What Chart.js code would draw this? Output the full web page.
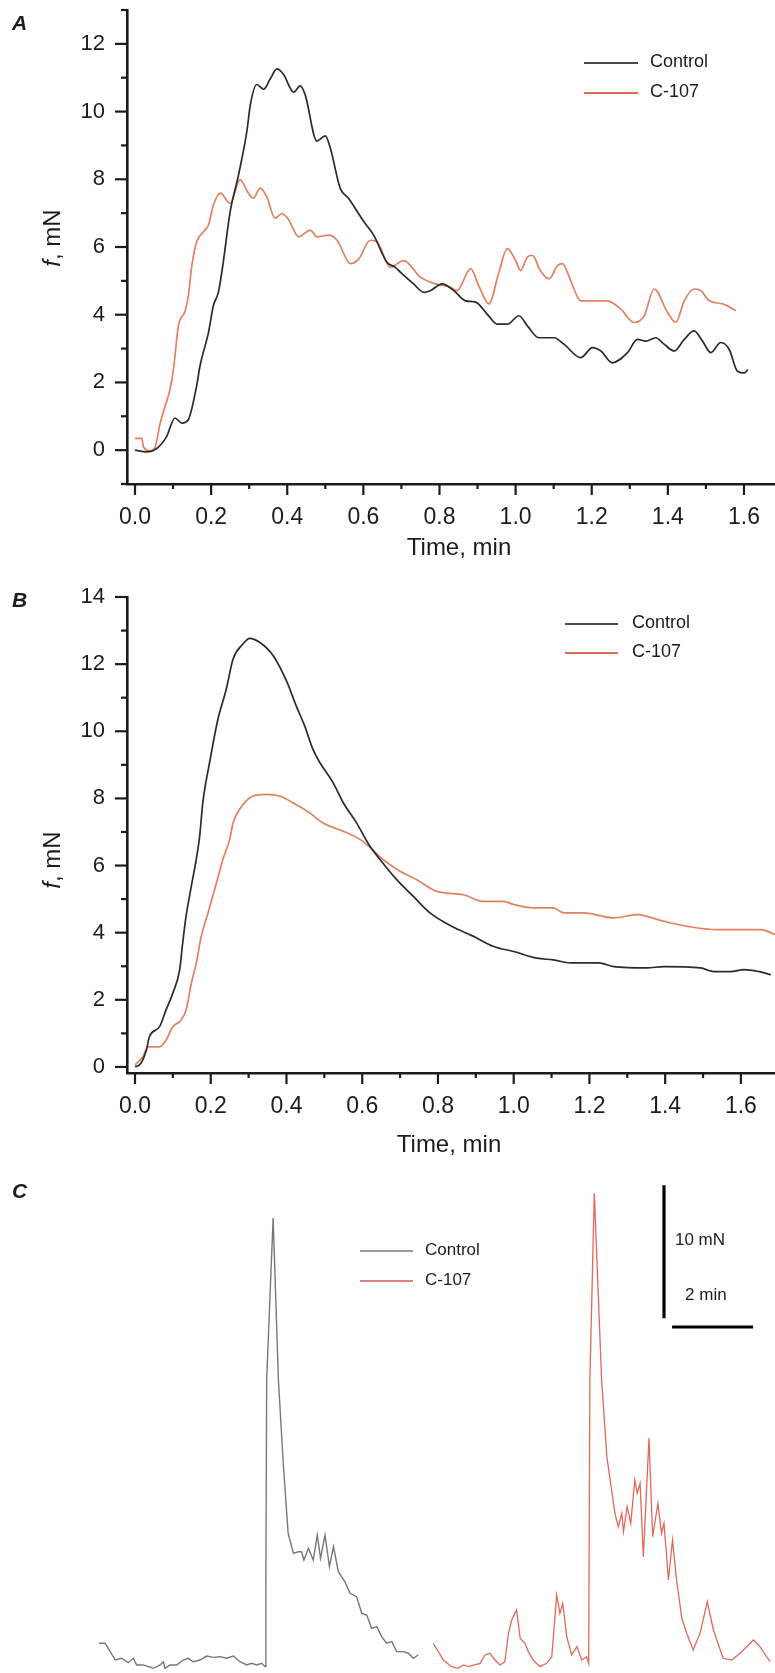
<!DOCTYPE html>
<html>
<head>
<meta charset="utf-8">
<script src="https://cdn.jsdelivr.net/npm/chart.js@4.4.0/dist/chart.umd.min.js"></script>
<style>
  body { margin: 0; background: #fff; }
  .panel { position: absolute; left: 0; width: 775px; }
  #wrapA { top: 0; height: 570px; }
  #wrapB { top: 570px; height: 590px; }
  #wrapC { top: 1160px; height: 513px; }
</style>
</head>
<body>
<div class="panel" id="wrapA"><canvas id="chartA" width="775" height="570"></canvas></div>
<div class="panel" id="wrapB"><canvas id="chartB" width="775" height="590"></canvas></div>
<div class="panel" id="wrapC"><canvas id="chartC" width="775" height="513"></canvas></div>
<script>
// ---- panel A: averaged force traces (min, mN)
const ctrlA_t = [0.000,0.030,0.057,0.083,0.105,0.123,0.140,0.162,0.171,0.193,0.206,0.219,0.230,0.250,0.272,0.294,0.303,0.320,0.338,0.355,0.373,0.390,0.417,0.434,0.447,0.478,0.500,0.513,0.539,0.561,0.601,0.627,0.662,0.684,0.697,0.732,0.759,0.776,0.807,0.838,0.868,0.895,0.925,0.952,0.978,1.009,1.031,1.061,1.101,1.127,1.171,1.202,1.224,1.254,1.294,1.320,1.342,1.368,1.390,1.417,1.443,1.469,1.491,1.513,1.539,1.561,1.583,1.601,1.610];
const ctrlA_f = [0.00,-0.05,0.05,0.40,0.95,0.80,0.90,1.90,2.50,3.47,4.27,4.66,5.40,7.04,8.13,9.42,10.20,10.80,10.66,10.96,11.26,11.10,10.57,10.76,10.50,9.13,9.28,8.93,7.74,7.44,6.75,6.35,5.55,5.40,5.26,4.91,4.66,4.71,4.91,4.71,4.41,4.37,4.02,3.72,3.72,3.97,3.67,3.32,3.32,3.13,2.73,3.03,2.93,2.58,2.88,3.27,3.22,3.32,3.13,2.93,3.27,3.52,3.22,2.88,3.18,2.98,2.33,2.28,2.38];
const c107A_t = [0.000,0.018,0.022,0.039,0.053,0.066,0.079,0.092,0.101,0.114,0.132,0.140,0.150,0.162,0.180,0.193,0.206,0.224,0.250,0.276,0.298,0.311,0.329,0.346,0.368,0.386,0.404,0.430,0.461,0.478,0.509,0.531,0.566,0.588,0.618,0.636,0.671,0.706,0.750,0.789,0.829,0.846,0.882,0.903,0.930,0.955,0.978,1.000,1.013,1.031,1.044,1.065,1.088,1.110,1.123,1.145,1.171,1.241,1.276,1.311,1.338,1.364,1.399,1.421,1.443,1.469,1.487,1.509,1.544,1.579];
const c107A_f = [0.35,0.35,0.10,-0.02,0.10,0.79,1.29,1.79,2.38,3.67,4.12,4.56,5.50,6.15,6.45,6.65,7.24,7.59,7.29,7.99,7.59,7.44,7.74,7.49,6.85,6.99,6.80,6.30,6.50,6.30,6.35,6.20,5.51,5.65,6.20,6.15,5.40,5.60,5.11,4.91,4.81,4.71,5.36,4.86,4.32,5.20,5.95,5.60,5.31,5.70,5.75,5.30,5.06,5.45,5.51,5.00,4.41,4.41,4.17,3.77,3.97,4.76,4.07,3.77,4.41,4.76,4.71,4.41,4.32,4.12];

// ---- panel B: smoothed force traces (min, mN)
const ctrlB_t = [0.000,0.012,0.030,0.038,0.065,0.082,0.100,0.118,0.126,0.135,0.149,0.162,0.171,0.179,0.197,0.219,0.241,0.259,0.285,0.303,0.329,0.365,0.400,0.426,0.448,0.470,0.488,0.523,0.550,0.585,0.620,0.647,0.691,0.735,0.779,0.836,0.894,0.947,1.000,1.061,1.105,1.150,1.224,1.264,1.352,1.396,1.493,1.529,1.573,1.608,1.648,1.679];
const ctrlB_f = [0.01,0.06,0.50,0.90,1.20,1.70,2.20,2.90,3.70,4.50,5.40,6.20,6.90,7.87,9.07,10.36,11.25,12.15,12.60,12.77,12.65,12.25,11.50,10.75,10.16,9.46,9.07,8.47,7.87,7.27,6.58,6.18,5.58,5.08,4.59,4.19,3.89,3.59,3.44,3.24,3.19,3.10,3.10,2.99,2.95,2.99,2.95,2.84,2.84,2.90,2.84,2.75];
const c107B_t = [0.000,0.021,0.034,0.065,0.082,0.100,0.122,0.135,0.149,0.162,0.175,0.193,0.215,0.232,0.250,0.259,0.276,0.312,0.347,0.382,0.417,0.461,0.497,0.550,0.594,0.620,0.655,0.700,0.744,0.797,0.867,0.920,0.973,1.000,1.052,1.105,1.132,1.185,1.264,1.326,1.396,1.458,1.538,1.652,1.692];
const c107B_f = [0.06,0.31,0.60,0.60,0.80,1.20,1.40,1.70,2.50,3.10,3.89,4.59,5.48,6.18,6.78,7.27,7.67,8.07,8.12,8.07,7.87,7.57,7.27,7.02,6.78,6.55,6.18,5.83,5.58,5.23,5.13,4.93,4.93,4.84,4.74,4.74,4.59,4.59,4.44,4.54,4.34,4.19,4.09,4.09,3.94];

// ---- panel C: raw recordings (min, mN)
const ctrlC_t = [0,0.15,0.23,0.40,0.56,0.72,0.85,0.93,1.09,1.22,1.34,1.51,1.59,1.63,1.75,1.92,2.08,2.20,2.33,2.49,2.66,2.82,2.99,3.15,3.32,3.48,3.65,3.77,3.89,4.02,4.10,4.12,4.14,4.30,4.43,4.55,4.67,4.80,4.92,5.00,5.06,5.17,5.29,5.39,5.47,5.58,5.69,5.79,5.91,6.07,6.20,6.36,6.49,6.61,6.73,6.86,6.98,7.10,7.23,7.35,7.51,7.64,7.76,7.88];
const ctrlC_f = [1.86,1.86,1.48,0.60,0.73,0.40,0.73,0.23,0.23,0.10,-0.02,0.23,0.47,-0.02,0.23,0.23,0.60,0.73,0.47,0.60,0.90,0.80,0.85,0.73,0.90,0.47,0.23,0.35,0.23,0.35,0.10,6.11,21.65,33.83,21.65,15.39,10.13,8.62,8.74,8.74,8.12,9.00,8.12,10.0,8.25,10.0,7.62,9.12,7.24,6.49,5.62,5.36,4.11,3.98,2.98,3.11,2.35,1.86,1.98,1.23,1.23,1.11,0.73,0.98];
const c107C_t = [8.25,8.38,8.50,8.71,8.87,9.00,9.12,9.28,9.41,9.53,9.65,9.78,9.90,10.02,10.11,10.19,10.31,10.40,10.52,10.60,10.72,10.89,11.05,11.18,11.30,11.38,11.45,11.55,11.67,11.80,11.92,12.04,12.09,12.12,12.23,12.41,12.54,12.62,12.74,12.82,12.91,12.95,13.04,13.13,13.23,13.29,13.36,13.44,13.58,13.67,13.80,13.89,13.95,14.06,14.16,14.26,14.39,14.51,14.67,14.84,15.02,15.17,15.41,15.62,15.83,15.99,16.16,16.32,16.57];
const c107C_f = [1.86,1.23,0.60,0.10,-0.02,0.23,0.10,0.23,0.35,0.98,1.11,0.60,0.23,0.47,2.61,3.61,4.36,2.23,1.86,1.23,0.60,0.10,0.35,0.85,5.49,4.11,4.86,2.35,0.98,1.60,0.60,0.85,0.35,21.65,35.69,21.65,15.89,14.14,11.63,10.62,11.63,10.25,12.13,10.88,14.14,13.14,13.89,8.37,17.27,9.87,12.38,10.13,10.88,6.62,9.62,6.62,3.74,2.61,1.35,2.61,4.98,2.86,0.73,0.60,1.11,1.60,2.11,1.60,0.47];

// scale bar of panel C
const barForce = 10;      // mN
const barTime = 2;        // min
const vBarStart = [13.95, 26.3];
const hBarStart = [14.15, 25.64];

// axis ticks
const xTicks = [0, 0.2, 0.4, 0.6, 0.8, 1.0, 1.2, 1.4, 1.6];
const xMinor = [0.1, 0.3, 0.5, 0.7, 0.9, 1.1, 1.3, 1.5];
const yTicksA = [0, 2, 4, 6, 8, 10, 12];
const yMinorA = [-1, 1, 3, 5, 7, 9, 11, 13];
const yTicksB = [0, 2, 4, 6, 8, 10, 12, 14];
const yMinorB = [1, 3, 5, 7, 9, 11, 13];

const FONT = "'Liberation Sans', Arial, Helvetica, sans-serif";
const INK = '#1c1c1c';

function pts(ts, fs) { return ts.map((t, i) => ({ x: t, y: fs[i] })); }

function line(ctx, x1, y1, x2, y2) {
    ctx.beginPath();
    ctx.moveTo(x1, y1);
    ctx.lineTo(x2, y2);
    ctx.stroke();
}

// draws tick marks, panel letter, axis titles, legend and scale bar text
const decor = {
    id: 'decor',
    afterDraw(chart, args, o) {
        const ctx = chart.ctx;
        const xs = chart.scales.x, ys = chart.scales.y;
        ctx.save();
        if (o.ticks) {
            ctx.strokeStyle = INK;
            ctx.lineWidth = 2.2;
            const bx = xs.top, ly = ys.right;
            o.ticks.xMajor.forEach(v => { const p = xs.getPixelForValue(v); line(ctx, p, bx, p, bx + 11); });
            o.ticks.xMinor.forEach(v => { const p = xs.getPixelForValue(v); line(ctx, p, bx, p, bx + 5); });
            o.ticks.yMajor.forEach(v => { const p = ys.getPixelForValue(v); line(ctx, ly, p, ly - 12, p); });
            o.ticks.yMinor.forEach(v => { const p = ys.getPixelForValue(v); line(ctx, ly, p, ly - 6, p); });
        }
        ctx.fillStyle = INK;
        ctx.textBaseline = 'alphabetic';
        ctx.textAlign = 'left';
        ctx.font = 'italic bold 21px ' + FONT;
        ctx.fillText(o.letter.text, o.letter.x, o.letter.y);

        if (o.yTitle) {
            ctx.save();
            ctx.translate(o.yTitle.x, o.yTitle.y);
            ctx.rotate(-Math.PI / 2);
            ctx.textBaseline = 'middle';
            ctx.font = 'italic 24px ' + FONT;
            const w1 = ctx.measureText('f').width;
            ctx.font = '24px ' + FONT;
            const w2 = ctx.measureText(', mN').width;
            const x0 = -(w1 + w2) / 2;
            ctx.font = 'italic 24px ' + FONT;
            ctx.fillText('f', x0, 0);
            ctx.font = '24px ' + FONT;
            ctx.fillText(', mN', x0 + w1, 0);
            ctx.restore();
        }
        if (o.xTitle) {
            ctx.font = '24px ' + FONT;
            ctx.textAlign = 'center';
            ctx.textBaseline = 'middle';
            ctx.fillText('Time, min', o.xTitle.x, o.xTitle.y);
        }
        // legend
        const lg = o.legend;
        ctx.font = lg.size + 'px ' + FONT;
        ctx.textAlign = 'left';
        ctx.textBaseline = 'middle';
        chart.data.datasets.filter(d => d.label).forEach((d, i) => {
            const y = lg.y + i * lg.row;
            ctx.strokeStyle = d.legendColor || d.borderColor;
            ctx.lineWidth = 2;
            line(ctx, lg.x, y + 1, lg.x + lg.len, y + 1);
            ctx.fillStyle = INK;
            ctx.fillText(d.label, lg.textX, y);
        });
        // scale bar text
        if (o.bar) {
            ctx.font = '17px ' + FONT;
            ctx.fillStyle = INK;
            const vx = xs.getPixelForValue(vBarStart[0]);
            const vTop = ys.getPixelForValue(vBarStart[1] + barForce);
            ctx.fillText(barForce + ' mN', vx + 11, vTop + 55);
            const hx = xs.getPixelForValue(hBarStart[0]);
            const hy = ys.getPixelForValue(hBarStart[1]);
            ctx.fillText(barTime + ' min', hx + 13, hy - 32);
        }
        ctx.restore();
    }
};

function fixedScale(size) {
    return (s) => {
        if (s.isHorizontal()) s.height = size; else s.width = size;
        s.paddingTop = 0; s.paddingBottom = 0; s.paddingLeft = 0; s.paddingRight = 0;
    };
}

function traceChart(id, cfg) {
    return new Chart(document.getElementById(id), {
        type: 'line',
        data: {
            datasets: [
                { label: 'Control', data: pts(cfg.ctrl[0], cfg.ctrl[1]), borderColor: '#2b2b2b', borderWidth: 1.7,
                  pointRadius: 0, cubicInterpolationMode: 'monotone', legendColor: '#4a4a4a' },
                { label: 'C-107', data: pts(cfg.c107[0], cfg.c107[1]), borderColor: '#e4805f', borderWidth: 1.7,
                  pointRadius: 0, cubicInterpolationMode: 'monotone', legendColor: '#df6a55' }
            ]
        },
        options: {
            responsive: false,
            animation: false,
            layout: { padding: { top: cfg.top, left: 0, right: 0, bottom: 0 } },
            plugins: {
                legend: { display: false },
                tooltip: { enabled: false },
                decor: {
                    ticks: { xMajor: xTicks, xMinor: xMinor, yMajor: cfg.yTicks, yMinor: cfg.yMinor },
                    letter: cfg.letter,
                    yTitle: cfg.yTitle,
                    xTitle: cfg.xTitle,
                    legend: cfg.legend
                }
            },
            scales: {
                x: {
                    type: 'linear', min: cfg.xRange[0], max: cfg.xRange[1],
                    afterBuildTicks: s => { s.ticks = xTicks.map(v => ({ value: v })); },
                    afterFit: fixedScale(cfg.xHeight),
                    grid: { display: false, drawTicks: true, tickLength: 11 },
                    border: { display: true, width: 2.6, color: INK },
                    ticks: { padding: 9, color: INK, font: { family: FONT, size: 23 }, maxRotation: 0,
                             callback: v => v.toFixed(1) }
                },
                y: {
                    type: 'linear', min: cfg.yRange[0], max: cfg.yRange[1],
                    afterBuildTicks: s => { s.ticks = cfg.yTicks.map(v => ({ value: v })); },
                    afterFit: fixedScale(127),
                    grid: { display: false, drawTicks: true, tickLength: 12 },
                    border: { display: true, width: 2.6, color: INK },
                    ticks: { padding: 10, color: INK, font: { family: FONT, size: 22 } }
                }
            }
        },
        plugins: [decor]
    });
}

traceChart('chartA', {
    ctrl: [ctrlA_t, ctrlA_f], c107: [c107A_t, c107A_f],
    top: 10, xHeight: 86, xRange: [-0.021, 1.6815], yRange: [-1, 13],
    yTicks: yTicksA, yMinor: yMinorA,
    letter: { text: 'A', x: 12, y: 30 },
    yTitle: { x: 53, y: 238 }, xTitle: { x: 459, y: 548 },
    legend: { x: 584, len: 54, textX: 650, y: 62, row: 30, size: 18 }
});

traceChart('chartB', {
    ctrl: [ctrlB_t, ctrlB_f], c107: [c107B_t, c107B_f],
    top: 27, xHeight: 87, xRange: [-0.0211, 1.690], yRange: [-0.18, 14],
    yTicks: yTicksB, yMinor: yMinorB,
    letter: { text: 'B', x: 12, y: 37 },
    yTitle: { x: 53, y: 290 }, xTitle: { x: 449, y: 575 },
    legend: { x: 565, len: 53, textX: 632, y: 53, row: 29, size: 18 }
});

new Chart(document.getElementById('chartC'), {
    type: 'line',
    data: {
        datasets: [
            { label: 'Control', data: pts(ctrlC_t, ctrlC_f), borderColor: '#777777', borderWidth: 1.4,
              pointRadius: 0, tension: 0, legendColor: '#9a9a9a' },
            { label: 'C-107', data: pts(c107C_t, c107C_f), borderColor: '#e2685a', borderWidth: 1.3,
              pointRadius: 0, tension: 0, legendColor: '#e58080' },
            { data: [{ x: vBarStart[0], y: vBarStart[1] }, { x: vBarStart[0], y: vBarStart[1] + barForce }],
              borderColor: '#000', borderWidth: 3.2, pointRadius: 0 },
            { data: [{ x: hBarStart[0], y: hBarStart[1] }, { x: hBarStart[0] + barTime, y: hBarStart[1] }],
              borderColor: '#000', borderWidth: 3.2, pointRadius: 0 }
        ]
    },
    options: {
        responsive: false,
        animation: false,
        layout: { padding: 0 },
        plugins: {
            legend: { display: false },
            tooltip: { enabled: false },
            decor: {
                letter: { text: 'C', x: 12, y: 38 },
                legend: { x: 360, len: 53, textX: 425, y: 90, row: 30, size: 17 },
                bar: true
            }
        },
        scales: {
            x: { type: 'linear', display: false, min: -2.444, max: 16.691 },
            y: { type: 'linear', display: false, min: -0.376, max: 38.195 }
        }
    },
    plugins: [decor]
});
</script>
</body>
</html>
